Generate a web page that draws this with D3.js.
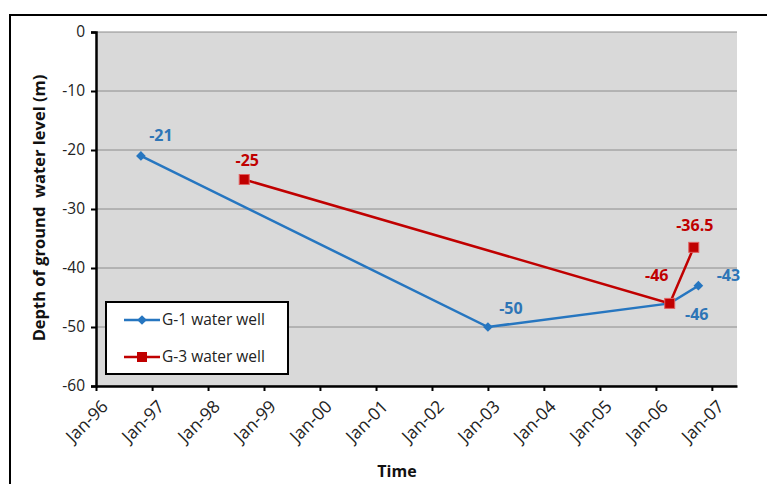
<!DOCTYPE html>
<html><head><meta charset="utf-8">
<script src="https://cdn.jsdelivr.net/npm/d3@7"></script>
<style>
body{margin:0;background:#fff;}
text{font-family:"Open Sans","Noto Sans",sans-serif;}
</style></head>
<body><svg id="c" width="767" height="484"></svg>
<script>
// ---- data ----
const g1Dates = ["1996-10-20","2003-01-01","2006-04-01","2006-10-05"];
const g1Values = [-21,-50,-46,-43];
const g3Dates = ["1998-08-25","2006-04-01","2006-09-05"];
const g3Values = [-25,-46,-36.5];
const seriesNames = ["G-1 water well","G-3 water well"];
const yTicks = [0,-10,-20,-30,-40,-50,-60];
const xTickYears = [1996,1997,1998,1999,2000,2001,2002,2003,2004,2005,2006,2007];
// label placement (dx, dy) relative to points
const g1LabelOff = [[20,-21],[23,-19],[27,11],[30,-11]];
const g3LabelOff = [[3,-20],[-13,-28],[1,-22]];

const parse = d3.timeParse("%Y-%m-%d");
const svg = d3.select("#c");
const L=96, R=737, T=32, B=386;

svg.append("rect").attr("x",10).attr("y",15).attr("width",800).attr("height",520)
  .attr("fill","#fff").attr("stroke","#000").attr("stroke-width",2);

const x = d3.scaleTime().domain([new Date(1996,0,1), new Date(2007,5,14)]).range([L,R]);
const y = d3.scaleLinear().domain([-60,0]).range([B,T]);

svg.append("rect").attr("x",L).attr("y",T).attr("width",R-L).attr("height",B-T).attr("fill","#d9d9d9");

// gridlines
svg.append("g").selectAll("line").data(yTicks).join("line")
  .attr("x1",L).attr("x2",R).attr("y1",d=>y(d)).attr("y2",d=>y(d))
  .attr("stroke","#8c8c8c").attr("stroke-width",1);

// y axis
const yAx = svg.append("g").attr("transform",`translate(${L},0)`)
  .call(d3.axisLeft(y).tickValues(yTicks).tickSize(5).tickPadding(6).tickFormat(d=>String(d)));
yAx.select(".domain").attr("stroke","#000").attr("stroke-width",2.5);
yAx.selectAll(".tick line").attr("stroke","#000").attr("stroke-width",2);
yAx.selectAll(".tick text").attr("font-size",15.5).attr("fill","#222")
  .style("font-family","'Open Sans',sans-serif");

// x axis
const xTicks = xTickYears.map(yr=>new Date(yr,0,1));
const xAx = svg.append("g").attr("transform",`translate(0,${B})`)
  .call(d3.axisBottom(x).tickValues(xTicks).tickSize(5).tickSizeOuter(0).tickFormat(d3.timeFormat("Jan-%y")));
xAx.select(".domain").attr("stroke","#000").attr("stroke-width",2.5);
xAx.selectAll(".tick line").attr("stroke","#000").attr("stroke-width",2);
xAx.selectAll(".tick text").attr("font-size",17.5).attr("fill","#222")
  .style("font-family","'Open Sans',sans-serif")
  .attr("text-anchor","end").attr("dx",0).attr("dy",0)
  .attr("transform","translate(7,16) rotate(-45)");

// titles
svg.append("text").attr("x",397).attr("y",477).attr("text-anchor","middle")
  .attr("font-size",16).attr("font-weight","bold").attr("fill","#111").text("Time");
svg.append("text").attr("transform","translate(45,208) rotate(-90)").attr("text-anchor","middle")
  .attr("font-size",16.5).attr("font-weight","bold").attr("fill","#111")
  .style("white-space","pre").text("Depth of ground  water level (m)");

const blue="#2676c0", red="#c00000";
const g1 = g1Dates.map((d,i)=>({date:parse(d),v:g1Values[i],off:g1LabelOff[i]}));
const g3 = g3Dates.map((d,i)=>({date:parse(d),v:g3Values[i],off:g3LabelOff[i]}));
const line = d3.line().x(d=>x(d.date)).y(d=>y(d.v));

svg.append("path").datum(g1).attr("d",line).attr("fill","none").attr("stroke",blue).attr("stroke-width",2.5);
svg.append("path").datum(g3).attr("d",line).attr("fill","none").attr("stroke",red).attr("stroke-width",2.5);

const diamond = d3.symbol().type(d3.symbolDiamond2).size(60);
svg.append("g").selectAll("path").data(g1).join("path")
  .attr("d",diamond).attr("transform",d=>`translate(${x(d.date)},${y(d.v)})`).attr("fill",blue);
svg.append("g").selectAll("rect").data(g3).join("rect")
  .attr("x",d=>x(d.date)-5).attr("y",d=>y(d.v)-5).attr("width",10).attr("height",10)
  .attr("fill",red).attr("stroke","#e06060").attr("stroke-width",1);

// data labels
svg.append("g").selectAll("text").data(g1).join("text")
  .attr("x",d=>x(d.date)+d.off[0]).attr("y",d=>y(d.v)+d.off[1]+6).attr("text-anchor","middle")
  .attr("font-size",16).attr("font-weight","bold").attr("fill","#2e75b6").text(d=>String(d.v));
svg.append("g").selectAll("text").data(g3).join("text")
  .attr("x",d=>x(d.date)+d.off[0]).attr("y",d=>y(d.v)+d.off[1]+6).attr("text-anchor","middle")
  .attr("font-size",16).attr("font-weight","bold").attr("fill",red).text(d=>String(d.v));

// legend
const lg = svg.append("g");
lg.append("rect").attr("x",106).attr("y",302).attr("width",182).attr("height",72)
  .attr("fill","#fff").attr("stroke","#000").attr("stroke-width",2);
const ly = [320,357], lc=[blue,red];
seriesNames.forEach((n,i)=>{
  lg.append("line").attr("x1",124).attr("x2",160).attr("y1",ly[i]).attr("y2",ly[i]).attr("stroke",lc[i]).attr("stroke-width",2.5);
  if(i===0) lg.append("path").attr("d",diamond).attr("transform",`translate(142,${ly[i]})`).attr("fill",blue);
  else lg.append("rect").attr("x",137).attr("y",ly[i]-5).attr("width",10).attr("height",10).attr("fill",red);
  lg.append("text").attr("x",162).attr("y",ly[i]+5).attr("font-size",15.5).attr("fill","#222").text(n);
});
</script></body></html>
